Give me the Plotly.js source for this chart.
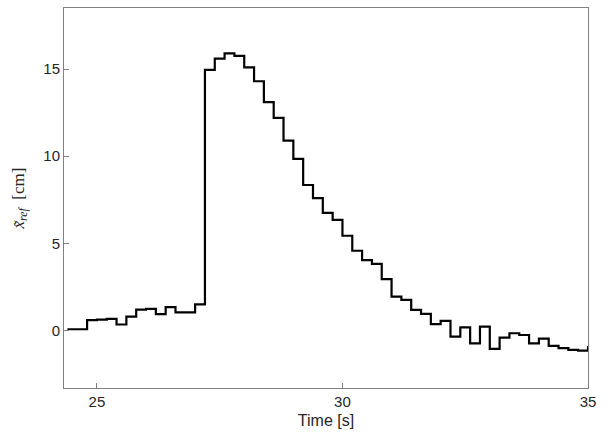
<!DOCTYPE html>
<html>
<head>
<meta charset="utf-8">
<script src="https://cdn.plot.ly/plotly-3.0.1.min.js"></script>
<style>body{margin:0;background:#fff;}</style>
</head>
<body>
<div id="plot" style="width:610px;height:440px;"></div>
<script>
// sample times (0.2 s steps)
var t0 = 24.4;
var dt = 0.2;
// x_ref values
var xref = [0.08,0.08,0.6,0.63,0.67,0.35,0.8,1.2,1.25,0.95,1.35,1.05,1.05,1.5,
  14.95,15.6,15.9,15.75,15.1,14.3,13.1,12.2,10.9,9.85,8.35,7.6,6.75,6.35,
  5.44,4.58,4.04,3.83,2.95,1.95,1.76,1.19,0.96,0.37,0.56,-0.34,0.19,-0.73,0.23,
  -1.05,-0.4,-0.15,-0.25,-0.73,-0.46,-0.88,-1.0,-1.1,-1.15,-0.88];
var xTicks = [25, 30, 35];
var yTicks = [0, 5, 10, 15];

var times = xref.map(function(v, i){ return +(t0 + i*dt).toFixed(2); });

var trace = {
  x: times,
  y: xref,
  type: 'scatter',
  mode: 'lines',
  line: {shape: 'hv', color: '#000', width: 2.2}
};

var axisStyle = {
  showgrid: false, zeroline: false, showline: true, mirror: true,
  linecolor: '#808080', linewidth: 1, ticks: 'inside', ticklen: 5,
  tickcolor: '#808080', tickfont: {family: 'Liberation Sans, Arial', size: 15, color: '#262626'}
};

var layout = {
  width: 610, height: 440,
  margin: {l: 64, r: 22, t: 8, b: 52},
  showlegend: false,
  plot_bgcolor: '#fff', paper_bgcolor: '#fff',
  xaxis: Object.assign({}, axisStyle, {
    range: [24.33, 35], tickvals: xTicks,
    title: {text: 'Time [s]', standoff: 5, font: {family: 'Liberation Sans, Arial', size: 16, color: '#262626'}}
  }),
  yaxis: Object.assign({}, axisStyle, {
    range: [-3.29, 18.5], tickvals: yTicks,
    title: {text: '<i>x̃</i><sub><i>ref</i></sub>  [cm]', standoff: 14, font: {family: 'Liberation Serif, Times New Roman', size: 17, color: '#262626'}}
  })
};

Plotly.newPlot('plot', [trace], layout, {staticPlot: true});
</script>
</body>
</html>
